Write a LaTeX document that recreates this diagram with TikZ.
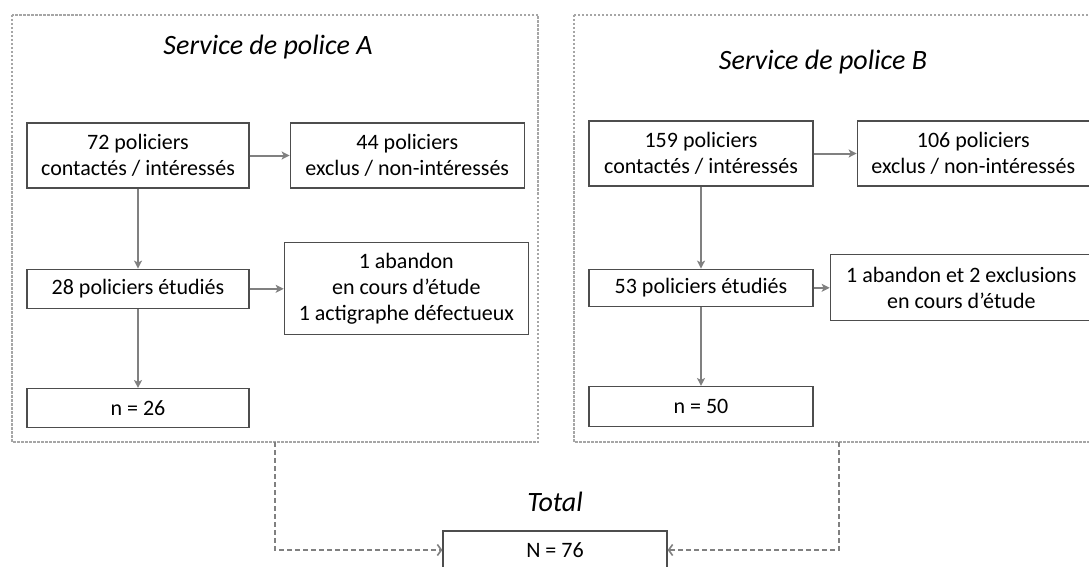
\documentclass[tikz,border=0pt]{standalone}
\usepackage{fontspec}
\setmainfont{Carlito}
\usetikzlibrary{positioning,arrows.meta}
\definecolor{framegray}{HTML}{A6A6A6}
\definecolor{arrowgray}{HTML}{808080}
\definecolor{boxline}{HTML}{4D4D4D}

\begin{document}
\begin{tikzpicture}[
x=1pt, y=-1pt,
box/.style={rectangle, draw=boxline, line width=1.3pt, fill=white, inner sep=0pt, align=center, font=\fontsize{22}{26}\selectfont},
title/.style={font=\fontsize{28}{34}\selectfont\itshape},
flow/.style={draw=arrowgray, line width=2pt, -{Stealth[length=8pt,width=8pt,inset=2pt]}},
total/.style={draw=arrowgray, line width=1.6pt, dash pattern=on 5pt off 3pt, -{Straight Barb[length=4pt,width=11pt]}},
panel/.style={draw=framegray, line width=2.5pt, dash pattern=on 2.5pt off 1.5pt}
]
\useasboundingbox (0,0) rectangle (1089,567);

\draw[panel] (12,15) rectangle (538,442);
\draw[panel] (574,15) rectangle (1110,442);

\coordinate (a_out) at (275,442);
\coordinate (b_out) at (839,442);

\node[title](title_a) at (268,47) {Service de police A};
\node[title](title_b) at (823,62) {Service de police B};
\node[title](title_total) at (555,502) {Total};

\node[box, minimum width=222pt, minimum height=65pt](a_contacted) at (138,155.5) {72 policiers\\contactés / intéressés};
\node[box, minimum width=234pt, minimum height=65pt](a_excluded)[right=40pt of a_contacted] {44 policiers\\exclus / non-intéressés};
\node[box, minimum width=222pt, minimum height=39pt](a_studied)[below=80pt of a_contacted] {28 policiers étudiés};
\node[box, minimum width=244pt, minimum height=92pt](a_dropped)[right=34pt of a_studied] {1 abandon\\en cours d’étude\\1 actigraphe défectueux};
\node[box, minimum width=222pt, minimum height=39pt](a_final)[below=79pt of a_studied] {n = 26};

\node[box, minimum width=224pt, minimum height=65pt](b_contacted) at (701,153.5) {159 policiers\\contactés / intéressés};
\node[box, minimum width=232pt, minimum height=65pt](b_excluded)[right=43pt of b_contacted] {106 policiers\\exclus / non-intéressés};
\node[box, minimum width=224pt, minimum height=37pt](b_studied)[below=82pt of b_contacted] {53 policiers étudiés};
\node[box, minimum width=262pt, minimum height=66pt](b_dropped)[right=16pt of b_studied] {1 abandon et 2 exclusions\\en cours d’étude};
\node[box, minimum width=224pt, minimum height=40pt](b_final)[below=79pt of b_studied] {n = 50};

\node[box, minimum width=224pt, minimum height=38pt](n_total) at (555,550) {N = 76};

\draw[flow] (a_contacted) -- (a_excluded);
\draw[flow] (a_contacted) -- (a_studied);
\draw[flow] (a_studied) -- (a_dropped);
\draw[flow] (a_studied) -- (a_final);

\draw[flow] (b_contacted) -- (b_excluded);
\draw[flow] (b_contacted) -- (b_studied);
\draw[flow] (b_studied) -- (b_dropped);
\draw[flow] (b_studied) -- (b_final);

\draw[total] (a_out) |- (n_total.west);
\draw[total] (b_out) |- (n_total.east);
\end{tikzpicture}
\end{document}
